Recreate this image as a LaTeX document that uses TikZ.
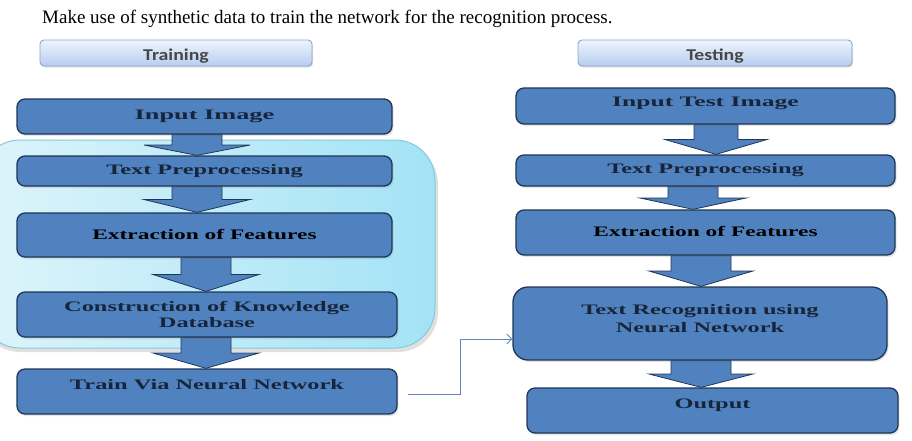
\documentclass[tikz,border=0pt]{standalone}
\usepackage{fontspec}
\setmainfont{Liberation Serif}
\newfontfamily\hdrfont{Carlito}
\usetikzlibrary{calc,shadows,arrows.meta}
\pgfdeclarelayer{back}
\pgfdeclarelayer{mid}
\pgfsetlayers{back,mid,main}

\definecolor{boxblue}{HTML}{5182C0}
\definecolor{boxedge}{HTML}{1F3658}
\definecolor{labelink}{HTML}{17253A}
\definecolor{linkblue}{HTML}{5F86C0}
\definecolor{hdrtop}{HTML}{EEF4FC}
\definecolor{hdrbot}{HTML}{B7CDEE}
\definecolor{hdredge}{HTML}{8DA5CB}
\definecolor{zoneleft}{HTML}{DDF4FA}
\definecolor{zoneright}{HTML}{A3E3F6}
\definecolor{zoneedge}{HTML}{86C9DA}

\tikzset{
  flowbox/.style={draw=boxedge, line width=1.3pt, fill=boxblue, rounded corners=8pt,
    minimum width=#1, inner sep=0pt,
    drop shadow={opacity=0.2, shadow xshift=1.5pt, shadow yshift=-2pt}},
  boxlabel/.style={font=\fontsize{14.5}{16}\selectfont\bfseries, text=labelink,
    xscale=1.68, align=center, inner sep=0pt},
  header/.style={draw=hdredge, line width=0.9pt, rounded corners=4pt,
    top color=hdrtop, bottom color=hdrbot, minimum height=26pt, inner sep=0pt,
    drop shadow={opacity=0.25, shadow xshift=1pt, shadow yshift=-1.5pt}},
  hdrlabel/.style={font=\hdrfont\fontsize{16.5}{18}\selectfont\bfseries, text=black!72,
    xscale=1.2, inner sep=0pt},
  arrowshape/.style={fill=boxblue, draw=boxedge, line width=0.8pt, line join=miter},
  link/.style={draw=linkblue, line width=0.8pt,
    -{Straight Barb[length=5pt,width=10pt,line width=0.8pt]}}
}

% block arrow from the bottom of #1 to the top of #2, centred at x=#3,
% shaft half-width #4, head half-width #5
\newcommand\blockarrow[5]{%
  \path let \p1=(#1.south), \p2=(#2.north), \n1={(\y1+\y2)/2} in
    [arrowshape] (#3-#4,\y1) -- (#3+#4,\y1) -- (#3+#4,\n1) -- (#3+#5,\n1)
    -- (#3,\y2) -- (#3-#5,\n1) -- (#3-#4,\n1) -- cycle;}

\begin{document}
\begin{tikzpicture}[x=1pt,y=-1pt]
\useasboundingbox (0,0) rectangle (912,440);
\begin{pgfonlayer}{back}
  \fill[white] (0,0) rectangle (912,440);
\end{pgfonlayer}

% caption
\node[anchor=base west, inner sep=0pt, font=\fontsize{19}{20}\selectfont] (cap) at (42,23)
  {Make use of synthetic data to train the network for the recognition process.};

% section headers
\node[header, minimum width=272pt] (htrain) at (176,53) {};
\node[hdrlabel] at (176,56) {Training};
\node[header, minimum width=274pt] (htest) at (715,53) {};
\node[hdrlabel] at (715,56) {Testing};

% training column
\node[flowbox=375pt, minimum height=35pt] (in1)  at (204.5,116.5) {};
\node[flowbox=375pt, minimum height=30pt] (pre1) at (204.5,171) {};
\node[flowbox=375pt, minimum height=44pt] (ext1) at (204.5,235) {};
\node[flowbox=380pt, minimum height=45pt] (kno)  at (207,314.5) {};
\node[flowbox=380pt, minimum height=45pt] (trn)  at (207,391.5) {};

\node[boxlabel, xscale=1.08] at (in1.center) {Input Image};
\node[boxlabel] at (pre1.center) {Text Preprocessing};
\node[boxlabel, text=black, xscale=0.96] at ([yshift=1pt]ext1.center) {Extraction of Features};
\node[boxlabel, font=\fontsize{14.5}{15.5}\selectfont\bfseries] at (kno.center)
  {Construction of Knowledge\\Database};
\node[boxlabel] at ([yshift=7pt]trn.center) {Train Via Neural Network};

% testing column
\node[flowbox=379pt, minimum height=36pt] (in2)  at (705.5,106) {};
\node[flowbox=379pt, minimum height=31pt] (pre2) at (705.5,170.5) {};
\node[flowbox=379pt, minimum height=45pt] (ext2) at (705.5,232.5) {};
\node[flowbox=374pt, minimum height=73pt, rounded corners=15pt] (rec) at (700,323.5) {};
\node[flowbox=371pt, minimum height=45pt] (out)  at (712.5,410.5) {};

\node[boxlabel, xscale=1.05] at ([yshift=3pt]in2.center) {Input Test Image};
\node[boxlabel] at (pre2.center) {Text Preprocessing};
\node[boxlabel, text=black, xscale=0.96] at ([yshift=1pt]ext2.center) {Extraction of Features};
\node[boxlabel, font=\fontsize{14.5}{17.5}\selectfont\bfseries] at ([yshift=5pt]rec.center)
  {Text Recognition using\\Neural Network};
\node[boxlabel] at ([yshift=5pt]out.center) {Output};

% shaded zone behind the inner training steps
\begin{pgfonlayer}{back}
  \fill[black, opacity=0.12, rounded corners=40pt] (-20,144) rectangle (438,352);
  \path[draw=zoneedge, line width=1pt, left color=zoneleft, right color=zoneright,
        rounded corners=40pt] (-20,140) rectangle (435,348);
\end{pgfonlayer}

% block arrows between steps
\begin{pgfonlayer}{mid}
  \blockarrow{in1}{pre1}{197}{25}{53}
  \blockarrow{pre1}{ext1}{197}{25}{53}
  \blockarrow{ext1}{kno}{206}{25}{53}
  \blockarrow{kno}{trn}{206}{25}{53}
  \blockarrow{in2}{pre2}{716}{22}{51}
  \blockarrow{pre2}{ext2}{693}{25}{53}
  \blockarrow{ext2}{rec}{701}{30}{52}
  \blockarrow{rec}{out}{701}{30}{52}
\end{pgfonlayer}

% trained network handed over to the recognition step
\draw[link] ($(trn.east)+(10,2.5)$) -- ++(53,0) |- ($(rec.west)+(0,15.5)$);
\end{tikzpicture}
\end{document}
